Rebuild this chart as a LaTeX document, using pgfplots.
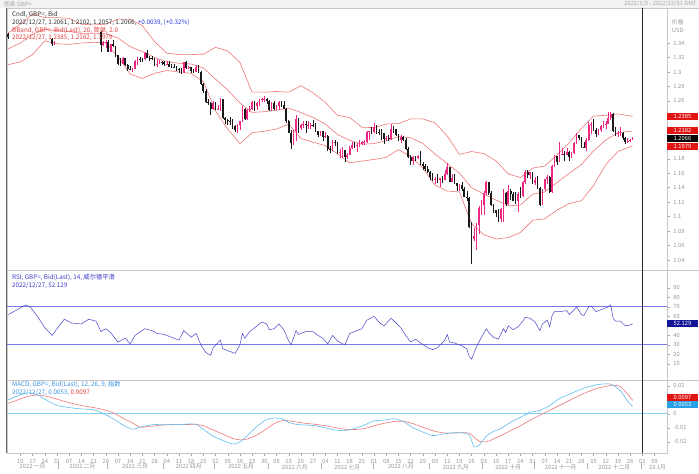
\documentclass[border=0pt]{standalone}
\usepackage{pgfplots}
\pgfplotsset{compat=1.18}
\usepackage{pgfplotstable}
\usepackage{fontspec}
\setmainfont{Noto Sans CJK SC}
\definecolor{upc}{RGB}{236,40,130}
\definecolor{dnc}{RGB}{25,25,25}
\definecolor{bbc}{RGB}{238,120,120}
\definecolor{rsic}{RGB}{70,70,205}
\definecolor{rsil}{RGB}{120,120,230}
\definecolor{macdb}{RGB}{95,190,240}
\definecolor{macdr}{RGB}{240,120,120}
\definecolor{zeroc}{RGB}{130,210,245}
\definecolor{axgray}{RGB}{150,150,150}
\definecolor{boxred}{RGB}{225,20,20}
\definecolor{boxblue}{RGB}{20,20,150}
\definecolor{boxcyan}{RGB}{40,160,230}
\definecolor{legblue}{RGB}{40,60,230}
\definecolor{legred}{RGB}{225,60,60}
\definecolor{legrsi}{RGB}{60,60,200}
\definecolor{legmacd}{RGB}{60,150,225}
\newcommand\tf{\fontsize{6.3}{7}\selectfont}
\newcommand\tk{\fontsize{5.8}{6.5}\selectfont}

\pgfplotstableread{
x O H L C
0 1.3525 1.3540 1.3454 1.3484
18 1.3460 1.3467 1.3358 1.3390
19 1.3390 1.3426 1.3372 1.3410
38 1.3550 1.3566 1.3273 1.3378
39 1.3378 1.3430 1.3355 1.3410
40 1.3410 1.3440 1.3332 1.3418
41 1.3418 1.3436 1.3270 1.3282
42 1.3282 1.3390 1.3272 1.3380
43 1.3380 1.3437 1.3340 1.3357
44 1.3357 1.3365 1.3205 1.3230
45 1.3230 1.3240 1.3090 1.3113
46 1.3113 1.3187 1.3083 1.3110
47 1.3110 1.3200 1.3105 1.3188
48 1.3188 1.3194 1.3082 1.3092
49 1.3092 1.3108 1.3018 1.3035
50 1.3035 1.3084 1.3020 1.3027
51 1.3027 1.3060 1.3000 1.3042
52 1.3042 1.3165 1.3040 1.3150
53 1.3150 1.3213 1.3090 1.3183
54 1.3183 1.3200 1.3140 1.3180
55 1.3180 1.3195 1.3135 1.3172
56 1.3172 1.3277 1.3165 1.3260
57 1.3260 1.3298 1.3187 1.3197
58 1.3197 1.3219 1.3154 1.3196
59 1.3196 1.3223 1.3160 1.3185
60 1.3185 1.3190 1.3078 1.3090
61 1.3090 1.3180 1.3067 1.3116
62 1.3116 1.3163 1.3105 1.3141
63 1.3141 1.3158 1.3090 1.3140
64 1.3140 1.3146 1.3084 1.3113
65 1.3113 1.3148 1.3096 1.3114
66 1.3114 1.3150 1.3067 1.3075
67 1.3075 1.3103 1.3054 1.3073
68 1.3073 1.3109 1.3051 1.3072
69 1.3072 1.3084 1.3015 1.3034
70 1.3034 1.3055 1.2982 1.3028
71 1.3028 1.3054 1.2973 1.3002
72 1.3002 1.3140 1.2990 1.3133
73 1.3133 1.3148 1.3045 1.3060
74 1.3060 1.3080 1.3036 1.3062
75 1.3062 1.3068 1.2990 1.3011
76 1.3011 1.3038 1.2980 1.3005
77 1.3005 1.3090 1.2995 1.3069
78 1.3069 1.3090 1.2990 1.3002
79 1.3002 1.3010 1.2825 1.2838
80 1.2838 1.2850 1.2705 1.2733
81 1.2733 1.2768 1.2565 1.2580
82 1.2580 1.2620 1.2540 1.2570
83 1.2570 1.2590 1.2411 1.2485
84 1.2485 1.2600 1.2480 1.2574
85 1.2574 1.2580 1.2467 1.2490
86 1.2490 1.2542 1.2470 1.2491
87 1.2491 1.2638 1.2460 1.2628
88 1.2628 1.2630 1.2350 1.2360
89 1.2360 1.2380 1.2275 1.2335
90 1.2335 1.2345 1.2260 1.2328
91 1.2328 1.2380 1.2270 1.2318
92 1.2318 1.2343 1.2208 1.2247
93 1.2247 1.2262 1.2165 1.2198
94 1.2198 1.2275 1.2155 1.2262
95 1.2262 1.2320 1.2195 1.2316
96 1.2316 1.2525 1.2310 1.2494
97 1.2494 1.2500 1.2340 1.2345
98 1.2345 1.2488 1.2330 1.2478
99 1.2478 1.2525 1.2440 1.2488
100 1.2488 1.2600 1.2475 1.2584
101 1.2584 1.2598 1.2465 1.2527
102 1.2527 1.2590 1.2480 1.2570
103 1.2570 1.2630 1.2535 1.2622
104 1.2622 1.2640 1.2590 1.2625
105 1.2625 1.2667 1.2590 1.2630
106 1.2630 1.2640 1.2555 1.2601
107 1.2601 1.2614 1.2460 1.2474
108 1.2474 1.2580 1.2465 1.2570
109 1.2570 1.2600 1.2475 1.2488
110 1.2488 1.2545 1.2470 1.2530
111 1.2530 1.2600 1.2475 1.2590
112 1.2590 1.2600 1.2510 1.2538
113 1.2538 1.2595 1.2482 1.2494
114 1.2494 1.2500 1.2300 1.2315
115 1.2315 1.2330 1.2150 1.2160
116 1.2160 1.2200 1.1934 1.2012
117 1.2012 1.2202 1.1990 1.2182
118 1.2182 1.2405 1.2045 1.2350
119 1.2350 1.2370 1.2160 1.2218
120 1.2218 1.2285 1.2200 1.2262
121 1.2262 1.2325 1.2220 1.2277
122 1.2277 1.2315 1.2160 1.2260
123 1.2260 1.2325 1.2215 1.2265
124 1.2262 1.2290 1.2215 1.2268
125 1.2268 1.2330 1.2240 1.2267
126 1.2267 1.2290 1.2175 1.2186
127 1.2186 1.2190 1.2105 1.2127
128 1.2127 1.2180 1.2110 1.2178
129 1.2178 1.2190 1.2040 1.2095
130 1.2095 1.2165 1.2085 1.2115
131 1.2115 1.2125 1.1900 1.1935
132 1.1935 1.1975 1.1875 1.1919
133 1.1919 1.2055 1.1910 1.2032
134 1.2032 1.2060 1.1975 1.2030
135 1.2030 1.2035 1.1870 1.1889
136 1.1889 1.1935 1.1807 1.1891
137 1.1891 1.1965 1.1805 1.1922
138 1.1922 1.1925 1.1760 1.1825
139 1.1825 1.1875 1.1800 1.1858
140 1.1858 1.1980 1.1850 1.1953
141 1.1953 1.2035 1.1940 1.1994
142 1.1994 1.2025 1.1950 1.1976
143 1.1976 1.2015 1.1890 1.1996
144 1.1996 1.2065 1.1960 1.2004
145 1.2004 1.2050 1.1990 1.2030
146 1.2030 1.2065 1.1985 1.2036
147 1.2036 1.2182 1.2020 1.2167
148 1.2167 1.2190 1.2065 1.2178
149 1.2178 1.2245 1.2135 1.2163
150 1.2163 1.2293 1.2160 1.2240
151 1.2240 1.2260 1.2140 1.2167
152 1.2167 1.2210 1.2125 1.2165
153 1.2165 1.2205 1.2065 1.2150
154 1.2150 1.2160 1.2005 1.2075
155 1.2075 1.2118 1.2050 1.2088
156 1.2088 1.2125 1.2045 1.2070
157 1.2070 1.2275 1.2060 1.2215
158 1.2215 1.2250 1.2160 1.2205
159 1.2205 1.2210 1.2110 1.2134
160 1.2134 1.2140 1.2040 1.2054
161 1.2054 1.2125 1.2020 1.2100
162 1.2100 1.2120 1.2040 1.2060
163 1.2060 1.2085 1.1925 1.1935
164 1.1935 1.1960 1.1805 1.1823
165 1.1823 1.1845 1.1715 1.1770
166 1.1770 1.1833 1.1720 1.1827
167 1.1827 1.1835 1.1770 1.1804
168 1.1804 1.1855 1.1790 1.1834
169 1.1834 1.1900 1.1720 1.1733
170 1.1733 1.1760 1.1650 1.1697
171 1.1697 1.1725 1.1635 1.1653
172 1.1653 1.1700 1.1600 1.1621
173 1.1621 1.1630 1.1500 1.1547
174 1.1547 1.1600 1.1495 1.1510
175 1.1510 1.1550 1.1445 1.1526
176 1.1526 1.1590 1.1460 1.1508
177 1.1508 1.1540 1.1405 1.1530
178 1.1530 1.1560 1.1460 1.1509
179 1.1509 1.1640 1.1500 1.1590
180 1.1590 1.1738 1.1575 1.1680
181 1.1680 1.1690 1.1475 1.1485
182 1.1485 1.1590 1.1475 1.1540
183 1.1540 1.1590 1.1455 1.1466
184 1.1466 1.1470 1.1350 1.1420
185 1.1420 1.1450 1.1355 1.1434
186 1.1434 1.1475 1.1355 1.1379
187 1.1379 1.1405 1.1265 1.1271
188 1.1271 1.1355 1.1210 1.1255
189 1.1255 1.1275 1.0840 1.0856
190 1.0856 1.0930 1.0350 1.0685
191 1.0685 1.0840 1.0660 1.0732
192 1.0732 1.0915 1.0540 1.0888
193 1.0888 1.1140 1.0760 1.1118
194 1.1118 1.1235 1.1020 1.1167
195 1.1167 1.1350 1.1025 1.1325
196 1.1325 1.1495 1.1300 1.1475
197 1.1475 1.1480 1.1300 1.1323
198 1.1323 1.1360 1.1145 1.1157
199 1.1157 1.1175 1.1055 1.1085
200 1.1085 1.1095 1.0998 1.1053
201 1.1053 1.1100 1.0925 1.0972
202 1.0972 1.1125 1.0925 1.1104
203 1.1104 1.1380 1.0925 1.1331
204 1.1331 1.1340 1.1150 1.1173
205 1.1173 1.1440 1.1165 1.1358
206 1.1358 1.1380 1.1225 1.1319
207 1.1319 1.1345 1.1210 1.1216
208 1.1216 1.1335 1.1170 1.1213
209 1.1213 1.1335 1.1060 1.1309
210 1.1309 1.1410 1.1260 1.1291
211 1.1291 1.1490 1.1275 1.1477
212 1.1477 1.1645 1.1450 1.1619
213 1.1619 1.1645 1.1530 1.1577
214 1.1577 1.1615 1.1525 1.1611
215 1.1611 1.1620 1.1455 1.1467
216 1.1467 1.1545 1.1440 1.1508
217 1.1508 1.1565 1.1385 1.1392
218 1.1392 1.1410 1.1142 1.1166
219 1.1166 1.1385 1.1155 1.1380
220 1.1380 1.1525 1.1360 1.1515
221 1.1515 1.1580 1.1455 1.1547
222 1.1547 1.1565 1.1330 1.1335
223 1.1335 1.1715 1.1330 1.1705
224 1.1705 1.1855 1.1690 1.1837
225 1.1837 1.1840 1.1710 1.1761
226 1.1761 1.2030 1.1755 1.1856
227 1.1856 1.1955 1.1850 1.1869
228 1.1869 1.1905 1.1765 1.1853
229 1.1853 1.1955 1.1845 1.1894
230 1.1894 1.1900 1.1775 1.1822
231 1.1822 1.1895 1.1815 1.1885
232 1.1885 1.2030 1.1860 1.2018
233 1.2018 1.2155 1.2010 1.2122
234 1.2122 1.2125 1.2060 1.2090
235 1.2090 1.2095 1.1950 1.1967
236 1.1967 1.2030 1.1945 1.1949
237 1.1949 1.2090 1.1900 1.2056
238 1.2056 1.2310 1.2050 1.2261
239 1.2261 1.2310 1.2140 1.2284
240 1.2284 1.2345 1.2185 1.2192
241 1.2192 1.2230 1.2105 1.2148
242 1.2148 1.2215 1.2125 1.2202
243 1.2202 1.2265 1.2170 1.2252
244 1.2252 1.2320 1.2230 1.2262
245 1.2262 1.2320 1.2210 1.2282
246 1.2282 1.2445 1.2275 1.2368
247 1.2368 1.2446 1.2330 1.2419
248 1.2419 1.2430 1.2170 1.2189
249 1.2189 1.2240 1.2110 1.2140
250 1.2140 1.2185 1.2100 1.2152
251 1.2152 1.2240 1.2120 1.2162
252 1.2162 1.2165 1.2060 1.2089
253 1.2089 1.2105 1.2000 1.2034
254 1.2034 1.2085 1.2015 1.2047
255 1.2047 1.2068 1.2035 1.2054
256 1.2061 1.2102 1.2057 1.2066
}\candles

\pgfplotstableread{
x U M L
0 1.354 1.332 1.310
5 1.366 1.340 1.314
10 1.380 1.352 1.324
15 1.375 1.359 1.343
20 1.375 1.357 1.339
25 1.374 1.356 1.338
30 1.366 1.353 1.340
35 1.365 1.353 1.341
40 1.366 1.353 1.340
45 1.373 1.347 1.321
50 1.373 1.335 1.297
55 1.364 1.328 1.291
60 1.342 1.320 1.298
65 1.326 1.314 1.302
70 1.324 1.312 1.300
75 1.324 1.311 1.298
80 1.3245 1.3055 1.2865
85 1.334 1.290 1.246
90 1.329 1.275 1.221
95 1.313 1.257 1.201
100 1.272 1.244 1.216
105 1.272 1.245 1.218
110 1.273 1.247 1.221
115 1.272 1.250 1.228
120 1.281 1.244 1.208
125 1.271 1.237 1.203
130 1.258 1.228 1.198
135 1.240 1.2135 1.187
140 1.237 1.2055 1.1745
145 1.2235 1.200 1.1767
150 1.223 1.201 1.179
155 1.228 1.205 1.182
160 1.2286 1.2106 1.1926
165 1.235 1.209 1.183
170 1.235 1.201 1.167
175 1.2295 1.1865 1.1435
180 1.2114 1.1734 1.1354
185 1.186 1.160 1.134
190 1.190 1.140 1.090
195 1.187 1.131 1.075
200 1.177 1.123 1.069
205 1.159 1.115 1.071
210 1.154 1.116 1.078
215 1.167 1.131 1.095
220 1.170 1.134 1.097
225 1.185 1.147 1.109
230 1.202 1.160 1.118
235 1.222 1.172 1.122
240 1.239 1.191 1.143
245 1.240 1.206 1.172
250 1.242 1.216 1.190
256 1.2385 1.2182 1.1979
}\bands

\pgfplotstableread{
x r
0 62
3 66
7 72
9 70
12 60
15 48
18 40
20 47
23 57
26 53
30 52
33 57
36 55
38 44
40 47
42 43
45 33
48 37
50 31
52 40
56 47
59 45
61 42
64 41
67 38
70 35
72 45
75 38
77 42
79 30
81 22
83 19
84 27
87 35
88 26
90 24
93 21
95 30
96 42
97 37
99 44
101 48
104 54
106 52
107 46
109 47
111 52
113 46
115 34
116 30
118 45
119 41
122 44
125 44
127 40
129 37
131 31
133 40
135 34
138 30
140 42
143 45
145 47
147 56
150 60
152 54
154 50
157 58
159 53
161 48
163 40
165 33
167 36
169 32
172 27
174 25
176 27
179 35
180 41
181 33
183 32
186 29
188 26
189 18
190 15
192 28
194 38
196 47
197 43
199 38
201 36
203 47
204 43
205 50
207 46
209 49
211 55
212 59
214 58
216 54
218 45
219 52
221 56
222 49
223 61
224 65
226 65
229 66
230 62
232 67
233 70
235 62
236 61
238 70
239 71
241 65
243 67
246 70
247 72
248 58
249 55
251 55
253 50
255 51
256 52.129
}\rsi

\pgfplotstableread{
x m s
0 0.0100 0.0075
4 0.0130 0.0100
8 0.0150 0.0125
12 0.0135 0.0135
16 0.0095 0.0125
20 0.0060 0.0105
25 0.0045 0.0080
30 0.0035 0.0060
35 0.0030 0.0045
38 0.0010 0.0035
41 -0.0015 0.0020
44 -0.0045 0.0000
47 -0.0080 -0.0030
51 -0.0110 -0.0065
54 -0.0095 -0.0095
58 -0.0080 -0.0090
62 -0.0075 -0.0082
66 -0.0075 -0.0078
70 -0.0078 -0.0077
74 -0.0072 -0.0076
77 -0.0075 -0.0075
80 -0.0110 -0.0085
84 -0.0160 -0.0115
88 -0.0190 -0.0145
92 -0.0215 -0.0175
95 -0.0200 -0.0186
98 -0.0155 -0.0180
102 -0.0090 -0.0150
106 -0.0040 -0.0105
109 -0.0030 -0.0070
112 -0.0035 -0.0050
115 -0.0060 -0.0050
118 -0.0075 -0.0058
122 -0.0080 -0.0068
126 -0.0085 -0.0075
130 -0.0100 -0.0085
134 -0.0115 -0.0098
138 -0.0120 -0.0110
142 -0.0105 -0.0112
146 -0.0080 -0.0105
150 -0.0050 -0.0085
154 -0.0045 -0.0068
158 -0.0035 -0.0055
162 -0.0055 -0.0053
166 -0.0100 -0.0070
170 -0.0130 -0.0095
174 -0.0155 -0.0120
178 -0.0145 -0.0135
182 -0.0135 -0.0138
186 -0.0135 -0.0135
189 -0.0150 -0.0138
191 -0.0235 -0.0165
193 -0.0225 -0.0195
196 -0.0160 -0.0200
199 -0.0125 -0.0180
202 -0.0105 -0.0155
206 -0.0060 -0.0120
210 -0.0025 -0.0085
214 0.0010 -0.0045
218 0.0025 -0.0010
222 0.0060 0.0025
226 0.0110 0.0060
230 0.0140 0.0095
234 0.0170 0.0130
238 0.0195 0.0160
242 0.0210 0.0185
246 0.0215 0.0200
248 0.0205 0.0205
251 0.0165 0.0195
254 0.0090 0.0140
256 0.0053 0.0097
}\macd

\pgfplotsset{
  panel/.style={
    scale only axis, width=660pt, xmin=-0.5, xmax=270,
    axis line style={draw=black!22, line width=0.5pt},
    tick align=outside, major tick length=3pt,
    ytick pos=right, yticklabel pos=right,
    y tick style={draw=black!35, line width=0.4pt},
    yticklabel style={font=\tk, text=axgray},
    xtick=\empty,
    /pgf/number format/assume math mode=true,
    scaled y ticks=false,
    clip mode=individual,
  },
  candle/.style={draw=none, mark=none, error bars/.cd, y dir=plus, y explicit, error mark=none},
}
\tikzset{valbox/.style={anchor=west, minimum width=31pt, minimum height=7pt, inner sep=0pt, text=white, font=\tk}}

\begin{document}
\begin{tikzpicture}[x=1pt,y=1pt]
\fill[white] (0,0) rectangle (699,471);
\fill[black!5] (0,463) rectangle (699,471);
\node[anchor=west, inner sep=0, font=\tk, text=black!35] at (4,467) {图表 GBP=};
\node[anchor=east, inner sep=0, font=\tk, text=black!35] at (697,467) {2022/1/3 - 2022/12/31 GMT};

% ---------------- main panel ----------------
\begin{axis}[panel, at={(7pt,463pt)}, anchor=north west, height=262pt,
  ymin=1.0263, ymax=1.3884,
  ytick={1.04,1.06,1.08,1.1,1.12,1.14,1.16,1.18,1.26,1.28,1.3,1.32,1.34},
  yticklabel style={/pgf/number format/.cd, fixed, precision=2},
  unbounded coords=discard]
\addplot[bbc, line width=0.6pt] table[x=x, y=U] {\bands};
\addplot[bbc, line width=0.6pt] table[x=x, y=M] {\bands};
\addplot[bbc, line width=0.6pt] table[x=x, y=L] {\bands};
% wicks
\addplot[candle, error bar style={draw=upc, line width=0.5pt}]
  table[x=x, y expr={\thisrow{C}>=\thisrow{O} ? \thisrow{L} : nan}, y error plus expr={\thisrow{H}-\thisrow{L}}] {\candles};
\addplot[candle, error bar style={draw=dnc, line width=0.5pt}]
  table[x=x, y expr={\thisrow{C}<\thisrow{O} ? \thisrow{L} : nan}, y error plus expr={\thisrow{H}-\thisrow{L}}] {\candles};
% bodies
\addplot[candle, error bar style={draw=upc, line width=1.7pt}]
  table[x=x, y expr={\thisrow{C}>=\thisrow{O} ? \thisrow{O} : nan}, y error plus expr={\thisrow{C}-\thisrow{O}}] {\candles};
\addplot[candle, error bar style={draw=dnc, line width=1.7pt}]
  table[x=x, y expr={\thisrow{C}<\thisrow{O} ? \thisrow{C} : nan}, y error plus expr={\thisrow{O}-\thisrow{C}}] {\candles};
\node[valbox, fill=boxred] at (axis cs:270,1.2385) {1.2385};
\node[valbox, fill=boxred] at (axis cs:270,1.2195) {1.2182};
\node[valbox, fill=black] at (axis cs:270,1.2082) {1.2066};
\node[valbox, fill=boxred] at (axis cs:270,1.1972) {1.1979};
\end{axis}

% ---------------- RSI panel ----------------
\begin{axis}[panel, at={(7pt,201pt)}, anchor=north west, height=110pt,
  ymin=-6.8, ymax=108.9, ytick={10,20,30,40,60,70,80,90}]
\draw[rsil, line width=0.8pt] (axis cs:-0.5,70) -- (axis cs:270,70);
\draw[rsil, line width=0.8pt] (axis cs:-0.5,30) -- (axis cs:270,30);
\addplot[rsic, line width=0.5pt] table[x=x, y=r] {\rsi};
\node[valbox, fill=boxblue] at (axis cs:270,52.129) {52.129};
\end{axis}

% ---------------- MACD panel ----------------
\begin{axis}[panel, at={(7pt,91pt)}, anchor=north west, height=73pt,
  ymin=-0.02786, ymax=0.0243, ytick={-0.02,-0.01,0,0.02},
  yticklabel style={/pgf/number format/.cd, fixed, precision=2},
  xtick={5,10,...,265}, xtick pos=left,
  x tick style={draw=black!35, line width=0.4pt},
  xticklabels={10,17,24,31,07,14,21,28,07,14,21,28,04,11,18,25,02,09,16,23,30,06,13,20,27,04,11,18,25,01,08,15,22,29,05,12,19,26,03,10,17,24,31,07,14,21,28,05,12,19,26,02,09},
  xticklabel style={font=\tk, text=axgray},
  extra x ticks={10,30.5,52,74,95.5,117.5,139,161,183.5,205,226.5,248.5,265},
  extra x tick labels={2022 一月,2022 二月,2022 三月,2022 四月,2022 五月,2022 六月,2022 七月,2022 八月,2022 九月,2022 十月,2022 十一月,2022 十二月,'23 1月},
  extra x tick style={major tick length=0pt, tick style={draw=none}, xticklabel style={yshift=-8pt}}]
\draw[zeroc, line width=0.9pt] (axis cs:-0.5,0) -- (axis cs:270,0);
\addplot[macdr, line width=0.6pt, smooth, tension=0.4] table[x=x, y=s] {\macd};
\addplot[macdb, line width=0.6pt, smooth, tension=0.4] table[x=x, y=m] {\macd};
\node[valbox, fill=boxred] at (axis cs:270,0.0118) {0.0097};
\node[valbox, fill=boxcyan] at (axis cs:270,0.0064) {0.0053};
\end{axis}

% month separators
\foreach \sx in {58.2,107.0,163.2,214.4,268.1,321.8,373.0,429.1,482.8,534.0,587.7,641.4}
  {\draw[black!30, line width=0.4pt] (\sx,8) -- (\sx,1.5);}

% frame lines
\draw[black!22, line width=0.5pt] (7,463) -- (699,463);
\draw[black!22, line width=0.5pt] (7,201) -- (699,201);
\draw[black!22, line width=0.5pt] (7,91) -- (699,91);
\fill[black!60] (5.6,18) rectangle (7.4,463);
\draw[black!85, line width=0.8pt] (642.6,463) -- (642.6,18);

% legends
\begin{scope}[every node/.style={anchor=west, inner sep=0, font=\tf}]
\node[text=black!80] at (12,456) {Cndl, GBP=, Bid};
\node[text=black!80] at (12,448.5) {2022/12/27, 1.2061, 1.2102, 1.2057, 1.2066, \textcolor{legblue}{+0.0039, (+0.32\%)}};
\node[text=legred] at (12,441) {BBand, GBP=, Bid(Last), 20, 简单, 2.0};
\node[text=legred] at (12,433.5) {2022/12/27, 1.2385, 1.2182, 1.1979};
\node[text=legrsi] at (12,193) {RSI, GBP=, Bid(Last), 14, 威尔德平滑};
\node[text=legrsi] at (12,185.5) {2022/12/27, 52.129};
\node[text=legmacd] at (12,86) {MACD, GBP=, Bid(Last), 12, 26, 9, 指数};
\node[text=legmacd] at (12,78.5) {2022/12/27, 0.0053, \textcolor{legred}{0.0097}};
\node[text=axgray, font=\tk] at (672,449) {价格};
\node[text=axgray, font=\tk] at (672,441) {USD};
\end{scope}
\end{tikzpicture}
\end{document}
